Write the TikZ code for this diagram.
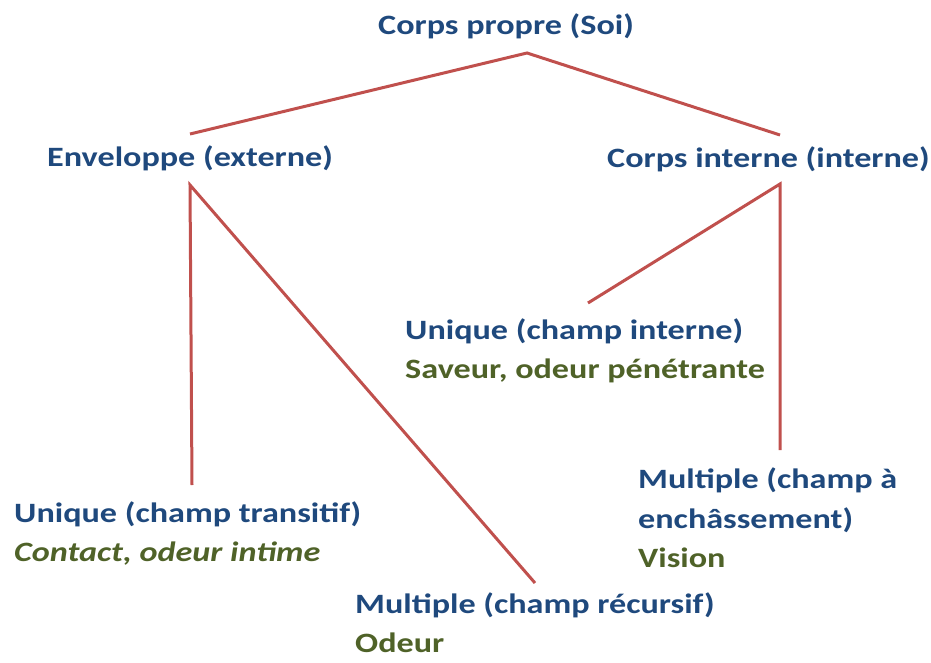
\documentclass[tikz,border=0pt]{standalone}
\usepackage{fontspec}
\setmainfont{Carlito}[FakeStretch=1.22]
\definecolor{bleu}{HTML}{1F497D}
\definecolor{vert}{HTML}{4F6228}
\definecolor{rouge}{HTML}{C0504D}
\tikzset{
  titre/.style={anchor=base west,inner sep=0pt,text=bleu,font=\fontsize{28}{34}\selectfont\bfseries},
  sens/.style={titre,text=vert},
  lien/.style={draw=rouge,line width=3pt}
}

\begin{document}
\begin{tikzpicture}[x=1pt,y=-1pt]
            \useasboundingbox (0,0) rectangle (931,663);
            \node[titre] (soi) at (378,35) {Corps propre (Soi)};
            \node[titre] (enveloppe) at (47,167) {Enveloppe (externe)};
            \node[titre] (corpsint) at (607,168) {Corps interne (interne)};
            \node[titre] (uniqint) at (405,339) {Unique (champ interne)};
            \node[sens] (saveur) at (405,378) {Saveur, odeur pénétrante};
            \node[titre] (uniqtrans) at (14,522) {Unique (champ transitif)};
            \node[sens] (contact) at (14,561) {\itshape Contact, odeur intime};
            \node[titre] (multench) at (638,488) {Multiple (champ à};
            \node[titre] (multench2) at (638,528) {enchâssement)};
            \node[sens] (vision) at (638,567) {Vision};
            \node[titre] (multrec) at (355,613) {Multiple (champ récursif)};
            \node[sens] (odeur) at (355,652) {Odeur};

            % points ou les traits s'arretent
            \coordinate (soi-b) at (527,53);
            \coordinate (env-h) at (190,134);
            \coordinate (env-b) at (190,185);
            \coordinate (int-h) at (780,135);
            \coordinate (int-b) at (780,184);
            \coordinate (uniqint-h) at (588,303);
            \coordinate (uniqtrans-h) at (192,485);
            \coordinate (multench-h) at (780,450);
            \coordinate (multrec-h) at (535,583);

            \draw[lien] (env-h) -- (soi-b) -- (int-h);
            \draw[lien] (uniqtrans-h) -- (env-b) -- (multrec-h);
            \draw[lien] (uniqint-h) -- (int-b) -- (multench-h);
        \end{tikzpicture}
\end{document}
